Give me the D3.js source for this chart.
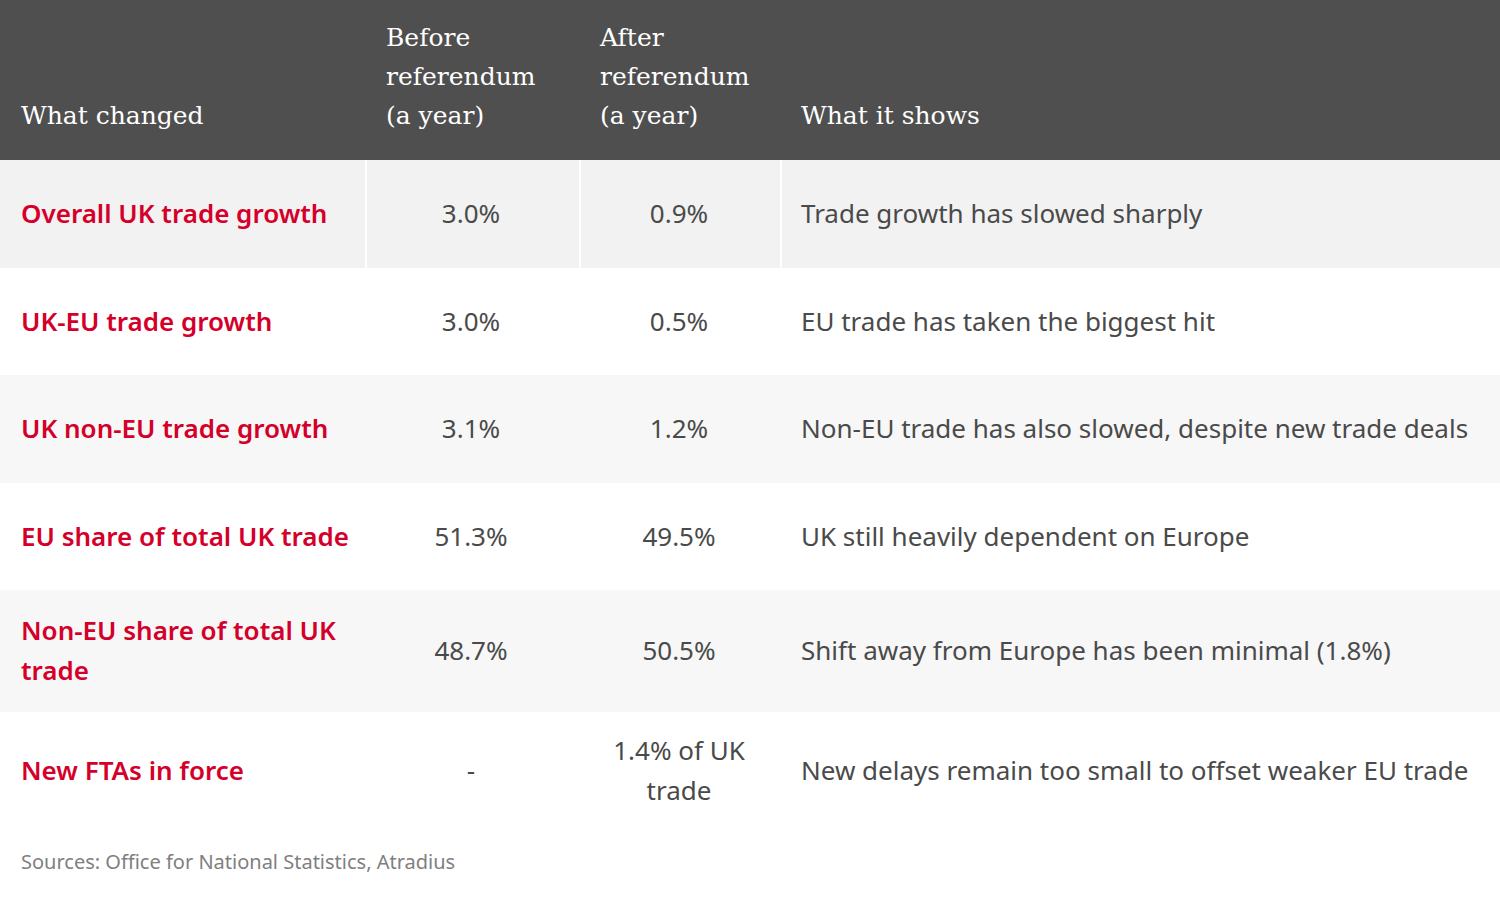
<!DOCTYPE html>
<html><head><meta charset="utf-8">
<script src="https://cdn.jsdelivr.net/npm/d3@7"></script>
<style>body{margin:0;background:#fff}</style>
</head><body>
<svg id="chart" width="1500" height="900"></svg>
<script>
const headers = [["What changed"], ["Before", "referendum", "(a year)"], ["After", "referendum", "(a year)"], ["What it shows"]];
const metrics = [["Overall UK trade growth"], ["UK-EU trade growth"], ["UK non-EU trade growth"], ["EU share of total UK trade"], ["Non-EU share of total UK", "trade"], ["New FTAs in force"]];
const before = [["3.0%"], ["3.0%"], ["3.1%"], ["51.3%"], ["48.7%"], ["-"]];
const after = [["0.9%"], ["0.5%"], ["1.2%"], ["49.5%"], ["50.5%"], ["1.4% of UK", "trade"]];
const shows = [["Trade growth has slowed sharply"], ["EU trade has taken the biggest hit"], ["Non-EU trade has also slowed, despite new trade deals"], ["UK still heavily dependent on Europe"], ["Shift away from Europe has been minimal (1.8%)"], ["New delays remain too small to offset weaker EU trade"]];
const rowEdges = [160, 268, 375, 483, 590, 712, 830];
const rowFills = ["#f2f2f2", "#ffffff", "#f7f7f7", "#ffffff", "#f7f7f7", "#ffffff"];
const source = "Sources: Office for National Statistics, Atradius";

const svg = d3.select("#chart");
const sans = "'Noto Sans', 'Open Sans', sans-serif";
const serif = "'DejaVu Serif', serif";

svg.append("rect").attr("width", 1500).attr("height", 160).attr("fill", "#4f4f4f");

const hx = [21, 386, 600, 801];
headers.forEach((lines, i) => {
  const n = lines.length;
  lines.forEach((l, j) => {
    svg.append("text").attr("x", hx[i]).attr("y", 124 - (n - 1 - j) * 39)
      .attr("fill", "#fff").attr("font-family", serif).attr("font-size", 25).text(l);
  });
});

const y = d3.scaleOrdinal().domain(d3.range(6)).range(rowEdges.slice(0, 6));
d3.range(6).forEach(i => {
  const y0 = y(i), y1 = rowEdges[i + 1], cy = (y0 + y1) / 2;
  svg.append("rect").attr("x", 0).attr("y", y0).attr("width", 1500).attr("height", y1 - y0).attr("fill", rowFills[i]);
  if (i === 0) [365, 579, 780].forEach(x => svg.append("rect").attr("x", x).attr("y", y0).attr("width", 2).attr("height", y1 - y0).attr("fill", "#fff"));
  const cell = (lines, x, anchor, color, weight) => {
    const n = lines.length;
    lines.forEach((l, j) => {
      svg.append("text").attr("x", x).attr("y", cy + (j - (n - 1) / 2) * 40 + 9)
        .attr("text-anchor", anchor).attr("fill", color).attr("font-weight", weight)
        .attr("font-family", sans).attr("font-size", 26).text(l);
    });
  };
  cell(metrics[i], 21, "start", "#d4002a", 600);
  cell(before[i], 471, "middle", "#4a4a4a", 400);
  cell(after[i], 679, "middle", "#4a4a4a", 400);
  cell(shows[i], 801, "start", "#4a4a4a", 400);
});

svg.append("text").attr("x", 21).attr("y", 869).attr("fill", "#808080")
  .attr("font-family", sans).attr("font-size", 20).text(source);
</script>
</body></html>
